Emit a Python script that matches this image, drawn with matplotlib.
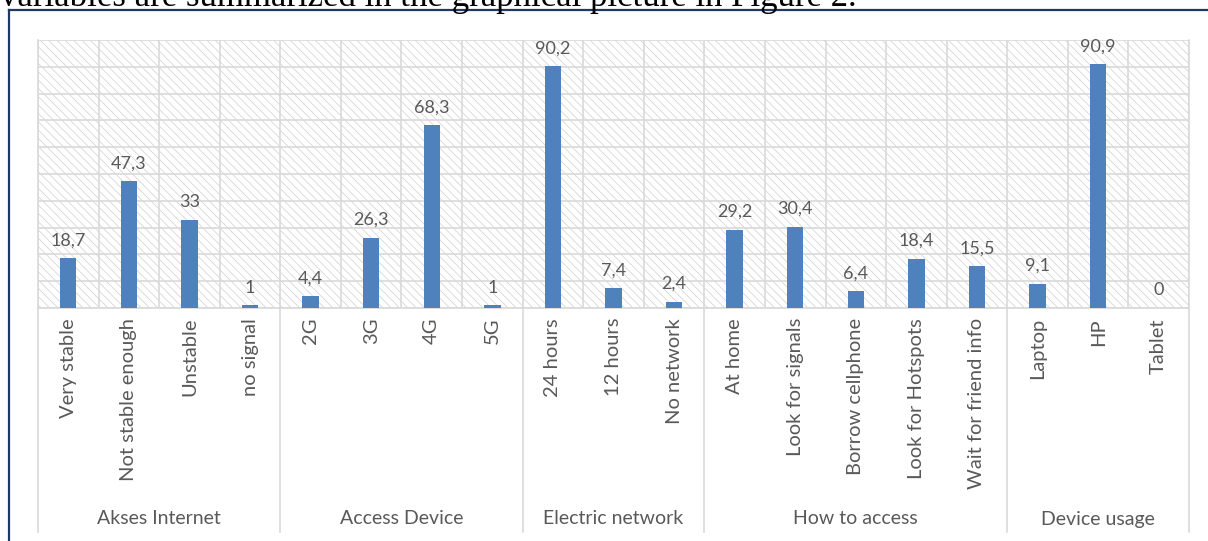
import numpy as np
import matplotlib
matplotlib.use("Agg")
import matplotlib.pyplot as plt
from matplotlib.patches import Rectangle

# --- data ---
groups = ["Akses Internet", "Access Device", "Electric network", "How to access", "Device usage"]
group_sizes = [4, 4, 3, 5, 3]
categories = ["Very stable", "Not stable enough", "Unstable", "no signal",
              "2G", "3G", "4G", "5G",
              "24 hours", "12 hours", "No network",
              "At home", "Look for signals", "Borrow cellphone", "Look for Hotspots", "Wait for friend info",
              "Laptop", "HP", "Tablet"]
values = [18.7, 47.3, 33, 1,
          4.4, 26.3, 68.3, 1,
          90.2, 7.4, 2.4,
          29.2, 30.4, 6.4, 18.4, 15.5,
          9.1, 90.9, 0]

BAR = "#4F81BD"
GRID = "#D9D9D9"
TXT = "#595959"
FONT = ["Lato", "DejaVu Sans"]
FS = 14

plt.rcParams["hatch.linewidth"] = 0.5

W, H = 1208, 541
fig = plt.figure(figsize=(W / 100, H / 100), dpi=100)

# plot area in pixels
x0, x1, ytop, ybase, ybot = 38, 1189, 40, 308, 532
ax = fig.add_axes([x0 / W, (H - ybase) / H, (x1 - x0) / W, (ybase - ytop) / H])

n = len(categories)
x = np.arange(n)
ax.set_xlim(-0.5, n - 0.5)
ax.set_ylim(0, 100)

# hatched background
bg = Rectangle((0, 0), 1, 1, transform=ax.transAxes, facecolor="white",
               edgecolor="#CFCFCF", hatch="\\\\\\\\", linewidth=0, zorder=0)
ax.add_patch(bg)

ax.bar(x, values, width=0.27, color=BAR, zorder=3)

for xi, v in zip(x, values):
    lab = f"{v:g}".replace(".", ",")
    ax.annotate(lab, (xi, v), xytext=(0, 7), textcoords="offset points",
                ha="center", va="bottom", fontsize=13, color=TXT, family=FONT)

# grid
ax.set_yticks(np.arange(0, 101, 10))
ax.set_xticks(np.arange(-0.5, n, 1), minor=True)
ax.set_xticks([])
ax.set_yticklabels([])
ax.tick_params(axis="both", which="both", length=0)
ax.grid(True, axis="y", color=GRID, linewidth=1.2, zorder=1)
ax.grid(True, axis="x", which="minor", color=GRID, linewidth=1.2, zorder=1)
ax.set_axisbelow(True)
for s in ax.spines.values():
    s.set_color(GRID)
    s.set_linewidth(1.2)
ax.spines["top"].set_visible(False)

# category labels (rotated)
lab_top = -(318 - ybase) / (ybase - ytop)
for xi, c in zip(x, categories):
    ax.text(xi, lab_top, c, transform=ax.get_xaxis_transform(), rotation=90,
            ha="center", va="top", fontsize=FS + 0.5, color=TXT, family=FONT)

# group separators and labels
bot = -(ybot - ybase) / (ybase - ytop)
grp_y = -(519 - ybase) / (ybase - ytop)
edges = np.concatenate([[0], np.cumsum(group_sizes)]) - 0.5
for e in edges:
    ax.plot([e, e], [0, bot], transform=ax.get_xaxis_transform(), color=GRID,
            linewidth=1.2, clip_on=False, zorder=1)
for g, a, b in zip(groups, edges[:-1], edges[1:]):
    ax.text((a + b) / 2, grp_y, g, transform=ax.get_xaxis_transform(),
            ha="center", va="center", fontsize=FS, color=TXT, family=FONT)

# page frame and cropped text above it
fig.add_artist(plt.Line2D([9 / W, 9 / W], [0, 1 - 10 / H], color="#1F3864", linewidth=1.6))
fig.add_artist(plt.Line2D([9 / W, 1], [1 - 10 / H, 1 - 10 / H], color="#1F3864", linewidth=1.6))
fig.text(0, 1 - 6 / H, "variables are summarized in the graphical picture in Figure 2.",
         ha="left", va="baseline", fontsize=25, family="Liberation Serif", color="black")

fig.savefig("out.png", dpi=100)
